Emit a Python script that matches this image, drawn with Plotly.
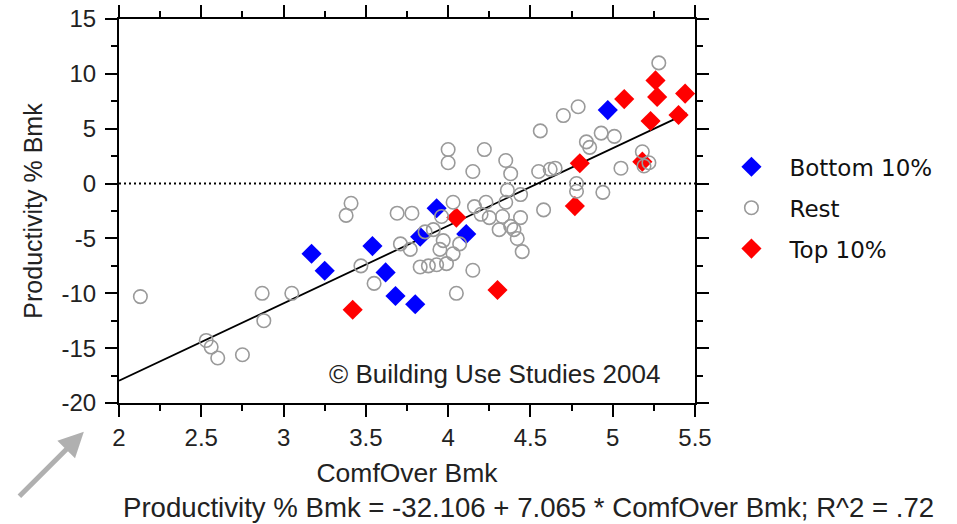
import plotly.graph_objects as go

# ---------------- data ----------------
bottom_x = [3.17, 3.25, 3.54, 3.62, 3.68, 3.80, 3.83, 3.93, 4.11, 4.97]
bottom_y = [-6.4, -7.95, -5.7, -8.1, -10.25, -11.0, -4.85, -2.25, -4.6, 6.7]

top_x = [3.42, 4.05, 4.30, 4.77, 4.80, 5.07, 5.18, 5.23, 5.26, 5.27, 5.40, 5.44]
top_y = [-11.5, -3.1, -9.7, -2.05, 1.85, 7.7, 2.0, 5.7, 9.4, 7.9, 6.25, 8.2]

rest_x = [2.13, 2.53, 2.56, 2.60, 2.75, 2.87, 2.88, 3.05, 3.38, 3.41,
          3.47, 3.55, 3.69, 3.71, 3.78, 3.77, 3.83, 3.88, 3.91, 3.93,
          3.95, 3.97, 3.99, 4.00, 4.00, 4.03, 4.03, 4.05, 4.07, 4.15,
          4.15, 4.16, 4.22, 4.23, 4.25, 4.31, 4.33, 4.35, 4.36, 4.35,
          4.38, 4.38, 4.42, 4.44, 4.44, 4.45, 4.55, 4.56, 4.58, 4.62,
          4.70, 4.79, 4.78, 4.78, 4.84, 4.86, 4.93, 4.94, 5.01, 5.05,
          5.18, 5.22, 5.28, 4.40, 4.20, 3.96, 3.86, 4.65, 5.19]
rest_y = [-10.3, -14.3, -14.9, -15.9, -15.6, -10.0, -12.5, -10.0, -2.9, -1.8,
          -7.5, -9.1, -2.7, -5.5, -2.7, -6.0, -7.6, -7.5, -4.2, -7.4,
          -6.0, -5.2, -7.3, 3.1, 1.9, -6.4, -1.7, -10.0, -5.5, -7.9,
          1.1, -2.1, 3.1, -1.7, -3.1, -4.2, -3.0, 2.1, -0.6, -1.7,
          0.9, -3.9, -5.0, -1.0, -3.1, -6.2, 1.1, 4.8, -2.4, 1.3,
          6.2, 7.0, 0.0, -0.7, 3.8, 3.3, 4.6, -0.8, 4.3, 1.4,
          2.9, 1.9, 11.0, -4.2, -2.8, -3.0, -4.4, 1.4, 1.6]

reg_intercept = -32.106
reg_slope = 7.065
reg_x = [2.0, 5.45]
reg_y = [reg_intercept + reg_slope * v for v in reg_x]

x_tickvals = [2, 2.5, 3, 3.5, 4, 4.5, 5, 5.5]
x_ticktext = ["2", "2.5", "3", "3.5", "4", "4.5", "5", "5.5"]
y_tickvals = [15, 10, 5, 0, -5, -10, -15, -20]
y_ticktext = ["15", "10", "5", "0", "-5", "-10", "-15", "-20"]

# ---------------- figure ----------------
FONT = "Liberation Sans, Arial, sans-serif"
LEGEND_FONT = "DejaVu Sans, Verdana, sans-serif"

fig = go.Figure()

# zero reference line
fig.add_trace(go.Scatter(x=[2, 5.5], y=[0, 0], mode="lines",
                         line=dict(color="black", width=2, dash="2px,3px"),
                         showlegend=False, hoverinfo="skip"))
# regression line
fig.add_trace(go.Scatter(x=reg_x, y=reg_y, mode="lines",
                         line=dict(color="black", width=1.8),
                         showlegend=False, hoverinfo="skip"))

fig.add_trace(go.Scatter(x=bottom_x, y=bottom_y, mode="markers", name="Bottom 10%",
                         legendrank=1, legendgroup="b",
                         marker=dict(symbol="diamond", size=15.5, color="#0000ff",
                                     line=dict(width=0))))
fig.add_trace(go.Scatter(x=top_x, y=top_y, mode="markers", name="Top 10%",
                         legendrank=3, legendgroup="t",
                         marker=dict(symbol="diamond", size=15.5, color="#ff0000",
                                     line=dict(width=0))))
fig.add_trace(go.Scatter(x=rest_x, y=rest_y, mode="markers", name="Rest",
                         legendrank=2, legendgroup="r",
                         marker=dict(symbol="circle-open", size=13.5, color="#9a9a9a",
                                     line=dict(width=1.6, color="#9a9a9a"))))

axis_common = dict(
    showline=True, linecolor="black", linewidth=2, mirror="ticks",
    ticks="outside", ticklen=12, tickwidth=2, tickcolor="black",
    showgrid=False, zeroline=False,
    tickfont=dict(family=FONT, size=24, color="#222"),
)

fig.update_xaxes(range=[2, 5.5], tickmode="array", tickvals=x_tickvals,
                 ticktext=x_ticktext,
                 minor=dict(dtick=0.25, tick0=2, ticks="outside", ticklen=6,
                            tickwidth=2, tickcolor="black", showgrid=False),
                 title=dict(text="ComfOver Bmk", font=dict(family=FONT, size=26.5, color="#222"),
                            standoff=14),
                 **axis_common)
fig.update_yaxes(range=[-20, 15], tickmode="array", tickvals=y_tickvals,
                 ticktext=y_ticktext,
                 minor=dict(dtick=2.5, tick0=0, ticks="outside", ticklen=6,
                            tickwidth=2, tickcolor="black", showgrid=False),
                 title=dict(text="Productivity % Bmk", font=dict(family=FONT, size=25, color="#222"),
                            standoff=12),
                 ticklabelstandoff=4,
                 **axis_common)

fig.add_annotation(text="© Building Use Studies 2004", x=4.28, y=-17.4,
                   xref="x", yref="y", showarrow=False,
                   font=dict(family=FONT, size=26, color="#222"))
fig.add_annotation(text="Productivity % Bmk = -32.106 + 7.065 * ComfOver Bmk; R^2 = .72",
                   x=0.711, y=-0.273, xref="paper", yref="paper", showarrow=False,
                   xanchor="center", yanchor="middle",
                   font=dict(family=FONT, size=27.6, color="#222"))
# gray pointer arrow in lower-left corner
fig.add_annotation(text="", x=-0.061, y=-0.075, xref="paper", yref="paper",
                   ax=-66, ay=66, showarrow=True, arrowhead=2, arrowsize=1,
                   arrowwidth=5, arrowcolor="#b0b0b0")

fig.update_layout(
    width=957, height=524,
    margin=dict(l=119, r=262, t=19, b=121, autoexpand=False),
    paper_bgcolor="white", plot_bgcolor="white",
    showlegend=True,
    legend=dict(x=1.032, y=0.671, xanchor="left", yanchor="top",
                font=dict(family=LEGEND_FONT, size=23, color="#111"),
                itemwidth=66, tracegroupgap=8, bgcolor="rgba(0,0,0,0)"),
)

fig.write_html("out.html")
